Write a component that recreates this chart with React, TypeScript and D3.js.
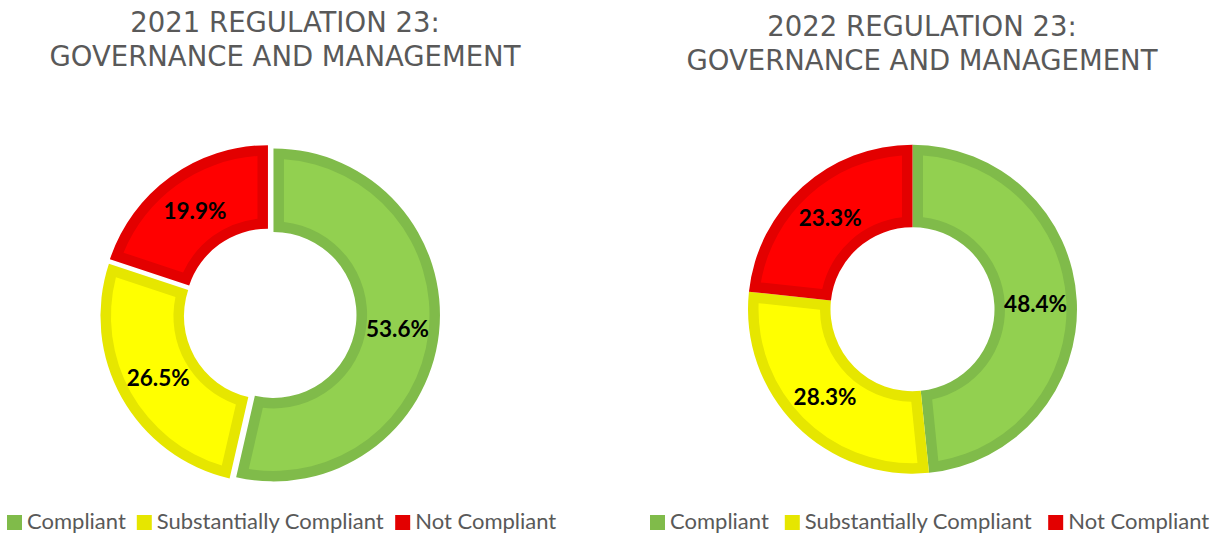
import React, { useEffect } from "react";
import * as d3 from "d3";

const categories = ["Compliant", "Substantially Compliant", "Not Compliant"];
const values2021 = [53.6, 26.5, 19.9];
const values2022 = [48.4, 28.3, 23.3];
const fillColors = ["#92D050", "#FFFF00", "#FF0000"];
const borderColors = ["#80BB4A", "#E6E600", "#E30000"];
const titleLine1 = ["2021 REGULATION 23:", "2022 REGULATION 23:"];
const titleLine2 = ["GOVERNANCE AND MANAGEMENT", "GOVERNANCE AND MANAGEMENT"];

const W = 1220;
const H = 536;

const layouts = [
  { cx: 270, cy: 314.5, R: 166.5, rIn: 83, explode: 3.5, titleX: 285, titleY: 32, legendX: 7, legendGap: 11 },
  { cx: 912.5, cy: 309.2, R: 164.5, rIn: 82, explode: 0, titleX: 922, titleY: 36, legendX: 650, legendGap: 16 },
];

const BORDER = 10.5;
const LEGEND_FONT = "22px Lato";
const LEGEND_SIZE = 22;

function measure(text: string, font: string): number {
  const c = document.createElement("canvas").getContext("2d");
  if (!c) return text.length * 10;
  c.font = font;
  return c.measureText(text).width;
}

function Donut({ values, layout, idx }: { values: number[]; layout: any; idx: number }) {
  const pie = d3.pie<number>().sort(null).startAngle(0).endAngle(2 * Math.PI);
  const arcs = pie(values);
  const outer = d3.arc<any>().innerRadius(layout.rIn).outerRadius(layout.R);
  const inner = d3
    .arc<any>()
    .innerRadius(layout.rIn + BORDER)
    .outerRadius(layout.R - BORDER)
    .padRadius(layout.R)
    .padAngle((2 * BORDER) / layout.R);
  const labelArc = d3.arc<any>().innerRadius(layout.rIn).outerRadius(layout.R);

  let x = layout.legendX;
  const items = categories.map((c, i) => {
    const sx = x;
    const tx = sx + 15 + 5;
    const tw = measure(c, LEGEND_FONT);
    x = tx + tw + layout.legendGap;
    return { c, i, sx, tx };
  });

  return (
    <g>
      <text
        x={layout.titleX}
        y={layout.titleY}
        textAnchor="middle"
        fontFamily="'DejaVu Sans', sans-serif"
        fontSize={27.5}
        fill="#595959"
      >
        {titleLine1[idx]}
      </text>
      <text
        x={layout.titleX}
        y={layout.titleY + 34}
        textAnchor="middle"
        fontFamily="'DejaVu Sans', sans-serif"
        fontSize={27.5}
        fill="#595959"
      >
        {titleLine2[idx]}
      </text>
      <g transform={`translate(${layout.cx},${layout.cy})`}>
        {arcs.map((a, i) => {
          const mid = (a.startAngle + a.endAngle) / 2;
          const dx = layout.explode * Math.sin(mid);
          const dy = -layout.explode * Math.cos(mid);
          const [lx, ly] = labelArc.centroid(a);
          return (
            <g key={i} transform={`translate(${dx},${dy})`}>
              <path d={outer(a) || ""} fill={borderColors[i]} />
              <path d={inner(a) || ""} fill={fillColors[i]} />
              <text
                x={lx}
                y={ly}
                textAnchor="middle"
                dominantBaseline="central"
                fontFamily="Lato, sans-serif"
                fontWeight="bold"
                fontSize={22.5}
                fill="#000"
              >
                {values[i].toFixed(1)}%
              </text>
            </g>
          );
        })}
      </g>
      <g>
        {items.map((it) => (
          <g key={it.i}>
            <rect x={it.sx} y={515} width={15} height={15} fill={borderColors[it.i]} />
            <text
              x={it.tx}
              y={529}
              fontFamily="Lato, sans-serif"
              fontSize={LEGEND_SIZE}
              fill="#595959"
            >
              {it.c}
            </text>
          </g>
        ))}
      </g>
    </g>
  );
}

export default function App() {
  useEffect(() => {
    document.body.style.margin = "0";
  }, []);
  return (
    <svg width={W} height={H} style={{ position: "absolute", left: 0, top: 0, background: "#fff" }}>
      <rect width={W} height={H} fill="#fff" />
      <Donut values={values2021} layout={layouts[0]} idx={0} />
      <Donut values={values2022} layout={layouts[1]} idx={1} />
    </svg>
  );
}
